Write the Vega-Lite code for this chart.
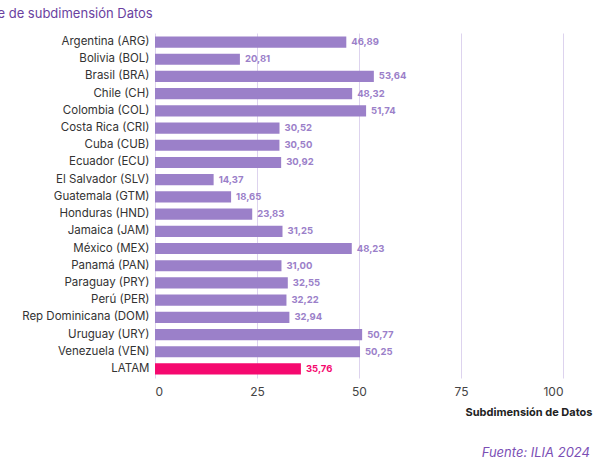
{
  "$schema": "https://vega.github.io/schema/vega-lite/v6.json",
  "width": 408,
  "height": 345,
  "autosize": "none",
  "padding": {"left": 155, "top": 33, "right": 37, "bottom": 93},
  "background": "white",
  "title": {
    "text": "Gráfico 17: Puntaje de subdimensión Datos",
    "anchor": "start",
    "dx": -8,
    "offset": 12,
    "fontSize": 13,
    "fontWeight": "normal",
    "color": "#6a3fa0",
    "font": "Inter"
  },
  "data": {
    "values": [
      {"pais": "Argentina (ARG)", "v": 46.89, "g": "país"},
      {"pais": "Bolivia (BOL)", "v": 20.81, "g": "país"},
      {"pais": "Brasil (BRA)", "v": 53.64, "g": "país"},
      {"pais": "Chile (CH)", "v": 48.32, "g": "país"},
      {"pais": "Colombia (COL)", "v": 51.74, "g": "país"},
      {"pais": "Costa Rica (CRI)", "v": 30.52, "g": "país"},
      {"pais": "Cuba (CUB)", "v": 30.50, "g": "país"},
      {"pais": "Ecuador (ECU)", "v": 30.92, "g": "país"},
      {"pais": "El Salvador (SLV)", "v": 14.37, "g": "país"},
      {"pais": "Guatemala (GTM)", "v": 18.65, "g": "país"},
      {"pais": "Honduras (HND)", "v": 23.83, "g": "país"},
      {"pais": "Jamaica (JAM)", "v": 31.25, "g": "país"},
      {"pais": "México (MEX)", "v": 48.23, "g": "país"},
      {"pais": "Panamá (PAN)", "v": 31.00, "g": "país"},
      {"pais": "Paraguay (PRY)", "v": 32.55, "g": "país"},
      {"pais": "Perú (PER)", "v": 32.22, "g": "país"},
      {"pais": "Rep Dominicana (DOM)", "v": 32.94, "g": "país"},
      {"pais": "Uruguay (URY)", "v": 50.77, "g": "país"},
      {"pais": "Venezuela (VEN)", "v": 50.25, "g": "país"},
      {"pais": "LATAM", "v": 35.76, "g": "latam"}
    ]
  },
  "layer": [
    {
      "mark": {"type": "bar"},
      "encoding": {
        "y": {
          "field": "pais", "type": "nominal", "sort": null, "title": "País",
          "scale": {"paddingInner": 0.35, "paddingOuter": 0.2},
          "axis": {
            "domain": false, "ticks": false, "labelPadding": 6, "labelFontSize": 11.5,
            "labelColor": "#333", "labelFont": "Inter",
            "titleAnchor": "end", "titleFontSize": 11, "titleFontWeight": "bold",
            "titlePadding": 112, "titleColor": "#222", "titleFont": "Inter"
          }
        },
        "x": {
          "field": "v", "type": "quantitative", "title": "Subdimensión de Datos",
          "scale": {"domain": [0, 100]},
          "axis": {
            "values": [0, 25, 50, 75, 100], "domain": false, "ticks": false,
            "gridColor": "#ddd3ee", "labelFontSize": 12, "labelColor": "#444",
            "labelPadding": 8, "labelFont": "Inter",
            "titleAnchor": "end", "titleX": 437, "titleY": 28, "titleAlign": "right",
            "titleFontSize": 11, "titleFontWeight": "bold", "titleColor": "#222", "titleFont": "Inter"
          }
        },
        "color": {
          "field": "g", "type": "nominal", "legend": null,
          "scale": {"domain": ["país", "latam"], "range": ["#9b80c9", "#f5096f"]}
        }
      }
    },
    {
      "mark": {"type": "text", "align": "left", "dx": 5, "fontSize": 9.5, "fontWeight": "bold", "font": "Inter"},
      "encoding": {
        "y": {"field": "pais", "type": "nominal", "sort": null},
        "x": {"field": "v", "type": "quantitative"},
        "text": {"field": "v", "type": "quantitative", "format": ".2f", "formatType": "number"},
        "color": {
          "field": "g", "type": "nominal", "legend": null,
          "scale": {"domain": ["país", "latam"], "range": ["#9b80c9", "#f5096f"]}
        }
      }
    },
    {
      "data": {"values": [{"t": "Fuente: ILIA 2024"}]},
      "mark": {"type": "text", "align": "right", "dx": 27, "fontSize": 13, "fontStyle": "italic", "color": "#7b4fb5", "font": "Inter"},
      "encoding": {
        "x": {"datum": 100},
        "y": {"value": 420},
        "text": {"field": "t"}
      }
    }
  ],
  "config": {
    "view": {"stroke": null},
    "locale": {"number": {"decimal": ",", "thousands": ".", "grouping": [3], "currency": ["", ""]}}
  }
}
